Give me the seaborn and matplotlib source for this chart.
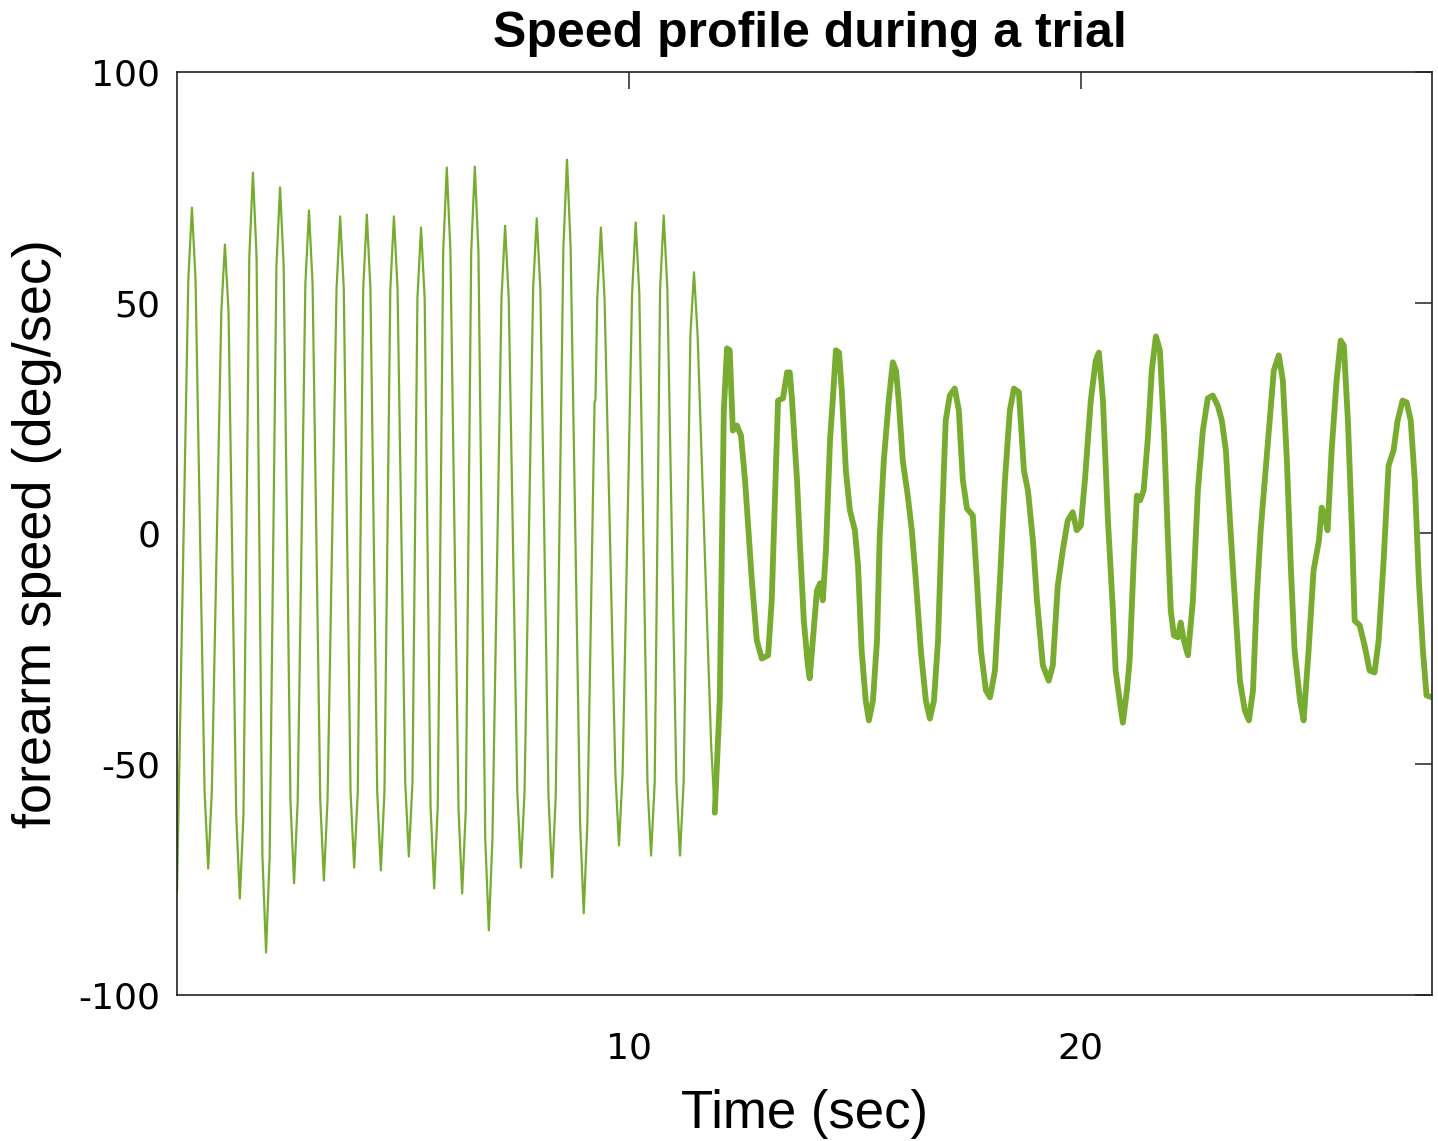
import numpy as np
import pandas as pd
import seaborn as sns
from matplotlib import pyplot as plt

# fast phase (thin line): peaks, troughs and their shoulders
t_fast = [0.00,
          0.25, 0.33, 0.41, 0.61, 0.69, 0.77, 0.98, 1.06, 1.14, 1.31, 1.39, 1.47,
          1.60, 1.68, 1.76, 1.89, 1.97, 2.05, 2.20, 2.28, 2.36, 2.51, 2.59, 2.67,
          2.84, 2.92, 3.00, 3.17, 3.25, 3.33, 3.53, 3.61, 3.69, 3.84, 3.92, 4.00,
          4.12, 4.20, 4.28, 4.43, 4.51, 4.59, 4.72, 4.80, 4.88, 5.05, 5.13, 5.21,
          5.32, 5.40, 5.48, 5.61, 5.69, 5.77, 5.89, 5.97, 6.05, 6.23, 6.31, 6.39,
          6.51, 6.59, 6.67, 6.82, 6.90, 6.98, 7.18, 7.26, 7.34, 7.53, 7.61, 7.69,
          7.88, 7.96, 8.04, 8.22, 8.30, 8.38, 8.55, 8.63, 8.71, 8.92, 9.00, 9.08,
          9.24, 9.26, 9.30, 9.38, 9.46, 9.70, 9.78, 9.86,
          10.07, 10.15, 10.23, 10.41, 10.49, 10.57, 10.69, 10.77, 10.85,
          11.05, 11.13, 11.21, 11.36, 11.44, 11.52, 11.82, 11.90]
v_fast = [-77.4,
          55, 70.6, 55, -56, -72.6, -56, 48, 62.6, 48, -61, -79.1, -61,
          60, 78.2, 60, -70, -90.8, -70, 58, 75.0, 58, -58, -75.8, -58,
          54, 70.0, 54, -58, -75.2, -58, 53, 68.7, 53, -56, -72.4, -56,
          53, 69.1, 53, -56, -73.0, -56, 53, 68.7, 53, -54, -70.0, -54,
          51, 66.3, 51, -59, -76.9, -59, 61, 79.3, 61, -60, -78.0, -60,
          61, 79.5, 61, -66, -86.0, -66, 51, 66.7, 51, -56, -72.4, -56,
          53, 68.3, 53, -57, -74.5, -57, 62, 81.0, 62, -63, -82.3, -63,
          28.5, 29.0, 51, 66.3, 51, -52, -67.6, -52,
          52, 67.4, 52, -54, -69.8, -54, 53, 68.9, 53,
          -54, -69.8, -54, 43, 56.6, 43, -46, -60.5]

# slow phase (thick line)
t_slow = [11.90, 12.01, 12.10, 12.17, 12.23, 12.30, 12.39, 12.48, 12.57, 12.63,
          12.72, 12.83, 12.94, 13.08, 13.16, 13.30, 13.41, 13.50, 13.56, 13.61,
          13.72, 13.78, 13.87, 13.96, 14.00, 14.07, 14.16, 14.23, 14.29, 14.36,
          14.45, 14.51, 14.58, 14.65, 14.71, 14.80, 14.89, 15.00, 15.07, 15.15,
          15.24, 15.31, 15.40, 15.49, 15.55, 15.64, 15.75, 15.84, 15.91, 15.97,
          16.06, 16.17, 16.26, 16.35, 16.46, 16.57, 16.66, 16.75, 16.84, 16.92,
          17.01, 17.10, 17.21, 17.30, 17.39, 17.48, 17.61, 17.70, 17.79, 17.90,
          17.99, 18.10, 18.21, 18.32, 18.43, 18.52, 18.63, 18.74, 18.83, 18.94,
          19.03, 19.16, 19.29, 19.38, 19.49, 19.60, 19.71, 19.82, 19.91, 20.00,
          20.09, 20.22, 20.33, 20.40, 20.49, 20.60, 20.71, 20.77, 20.86, 20.93,
          21.02, 21.08, 21.17, 21.24, 21.31, 21.39, 21.48, 21.57, 21.66, 21.75,
          21.84, 21.92, 21.99, 22.06, 22.15, 22.21, 22.28, 22.37, 22.48, 22.59,
          22.70, 22.81, 22.92, 23.03, 23.12, 23.21, 23.30, 23.41, 23.52, 23.63,
          23.72, 23.81, 23.89, 23.98, 24.07, 24.18, 24.27, 24.38, 24.47, 24.56,
          24.65, 24.73, 24.85, 24.93, 25.04, 25.15, 25.27, 25.33, 25.40, 25.46,
          25.55, 25.66, 25.75, 25.82, 25.91, 26.00, 26.06, 26.17, 26.28, 26.39,
          26.50, 26.59, 26.70, 26.81, 26.92, 27.01, 27.12, 27.21, 27.30, 27.39,
          27.48, 27.57, 27.65, 27.77]
v_slow = [-60.5, -36.2, 26.7, 40.1, 39.7, 22.3, 23.4, 21.2, 11.5, 2.8,
          -10.2, -23.2, -27.1, -26.4, -14.5, 28.8, 29.3, 34.9, 34.9, 28.8,
          11.5, -1.5, -18.9, -28.6, -31.4, -23.2, -12.4, -10.8, -14.5, -3.7,
          20.2, 28.8, 39.7, 39.2, 31.0, 13.7, 5.0, 0.7, -6.9, -25.4,
          -36.2, -40.5, -36.2, -23.2, -0.4, 15.8, 28.8, 37.1, 35.3, 28.8,
          15.8, 8.2, 0.7, -10.2, -25.4, -36.2, -40.1, -36.2, -23.2, 0.7,
          24.5, 29.9, 31.4, 26.7, 11.5, 5.4, 3.9, -10.2, -25.4, -34.0,
          -35.5, -29.7, -10.2, 11.5, 26.7, 31.4, 30.6, 13.7, 9.3, -1.5,
          -14.5, -28.6, -31.9, -28.6, -11.3, -3.7, 2.8, 4.6, 0.7, 1.7,
          11.5, 28.8, 37.5, 39.2, 28.8, 2.8, -16.7, -29.7, -36.2, -41.0,
          -34.0, -27.5, -5.9, 8.2, 7.2, 9.3, 20.2, 35.3, 42.7, 39.7,
          22.3, 0.7, -16.7, -22.1, -22.5, -19.3, -23.2, -26.4, -14.5, 9.3,
          22.3, 29.3, 29.9, 27.7, 24.5, 18.0, 2.8, -14.5, -31.9, -38.4,
          -40.5, -34.0, -14.5, 0.7, 11.5, 24.5, 35.3, 38.6, 33.2, 15.8,
          -8.0, -25.4, -36.2, -40.5, -25.4, -8.0, -1.5, 5.6, 3.9, 0.7,
          18.0, 33.2, 41.8, 40.7, 24.5, 0.7, -18.9, -19.9, -24.3, -29.7,
          -30.1, -23.2, -5.9, 14.7, 18.0, 24.5, 28.8, 28.4, 24.5, 11.5,
          -10.2, -25.4, -35.1, -35.5]

green = "#77AC30"

sns.set_style("white")
plt.rcParams["axes.unicode_minus"] = False
plt.rcParams["text.color"] = "black"
plt.rcParams["axes.labelcolor"] = "black"

fig = plt.figure(figsize=(14.38, 11.41), dpi=100)
ax = fig.add_axes([0.1231, 0.1280, 0.8727, 0.8089])

fast = pd.DataFrame({"t": t_fast, "v": v_fast})
slow = pd.DataFrame({"t": t_slow, "v": v_slow})
sns.lineplot(data=fast, x="t", y="v", sort=False, color=green, linewidth=1.6, ax=ax)
sns.lineplot(data=slow, x="t", y="v", sort=False, color=green, linewidth=4.2, ax=ax)

ax.set_xlim(0, 27.77)
ax.set_ylim(-100, 100)
ax.set_xticks([10, 20])
ax.set_yticks([-100, -50, 0, 50, 100])
ax.tick_params(direction="in", length=12, width=1.2, color="#333333",
               top=True, right=True, labelsize=26, labelcolor="black")
ax.tick_params(axis="x", pad=26)
ax.tick_params(axis="y", pad=12)
for lab in ax.get_xticklabels() + ax.get_yticklabels():
    lab.set_family("DejaVu Sans")
for s in ax.spines.values():
    s.set_color("#222222")
    s.set_linewidth(1.2)

ax.set_xlabel("Time (sec)", fontsize=38, family="Liberation Sans", labelpad=17)
ax.set_ylabel("forearm speed (deg/sec)", fontsize=39, family="Liberation Sans")
ax.yaxis.set_label_coords(-0.092, 0.5)
ax.set_title("Speed profile during a trial", fontsize=36, family="Liberation Sans",
             fontweight="bold", pad=18, x=0.504)

fig.savefig("out.png", dpi=100)
